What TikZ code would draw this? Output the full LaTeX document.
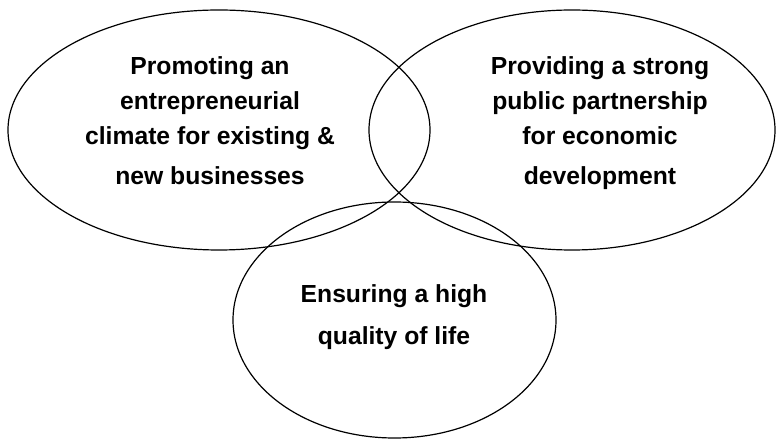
\documentclass[tikz,border=0pt]{standalone}
\usepackage{fontspec}
\setmainfont{Liberation Sans}
\usepackage{tikz}
\usetikzlibrary{shapes.geometric,positioning}

\begin{document}
\begin{tikzpicture}[x=1pt,y=1pt,
    circ/.style={draw, ellipse, line width=1.2pt, inner sep=0pt},
    goal/.style={align=center, font=\fontsize{24.7}{35}\selectfont\bfseries}]
    \useasboundingbox (0,0) rectangle (776,439);
    % the three goal areas
    \node[circ, minimum width=422pt, minimum height=240pt] (biz) at (219,309) {};
    \node[circ, minimum width=406pt, minimum height=240pt] (pub) at (572,309) {};
    \node[circ, minimum width=323pt, minimum height=236pt] (life) at (394.5,119) {};
    % labels
    \node[goal] (bizlbl) at (210,318) {Promoting an\\entrepreneurial\\climate for existing \&\\[5pt]new businesses};
    \node[goal] (publbl) at (600,315.5) {Providing a strong\\public partnership\\for economic\\[5pt]development};
    \node[goal] (lifelbl) at (394,122) {Ensuring a high\\[7pt]quality of life};
\end{tikzpicture}
\end{document}
